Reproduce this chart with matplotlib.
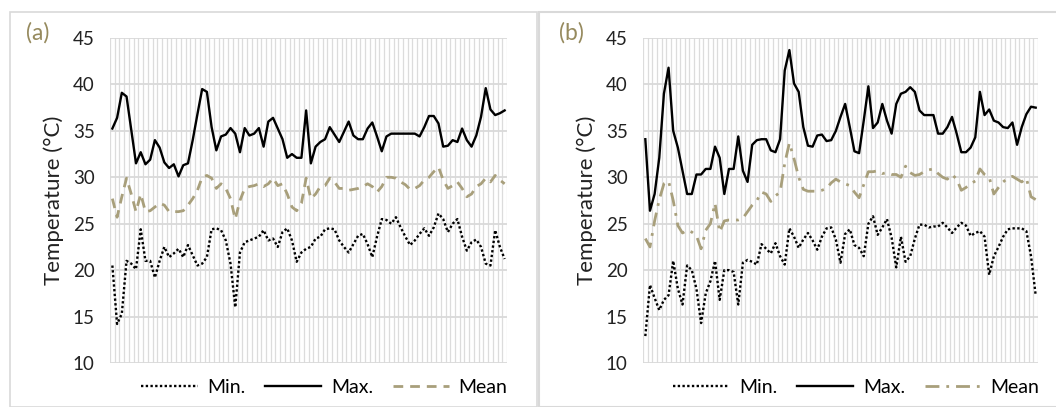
import matplotlib
matplotlib.use("Agg")
import matplotlib.pyplot as plt
from matplotlib.patches import Rectangle

plt.rcParams['font.family'] = ['Lato', 'DejaVu Sans']

# Panel (a) daily temperatures
min_a = [20.5, 14.2, 15.3, 21.0, 20.7, 20.1, 24.4, 21.0, 21.0, 19.2,
         21.0, 22.5, 21.4, 21.8, 22.3, 21.4, 22.7, 21.6, 20.5, 20.7,
         21.4, 24.4, 24.5, 24.3, 23.2, 20.7, 16.0, 21.9, 23.0, 23.2,
         23.4, 23.6, 24.3, 23.2, 23.4, 22.5, 24.1, 24.5, 23.2, 20.9,
         21.9, 22.3, 22.5, 23.4, 23.6, 24.4, 24.5, 24.4, 23.2, 22.5,
         21.9, 22.8, 23.7, 23.9, 22.8, 21.4, 23.6, 25.5, 25.4, 25.0,
         25.7, 24.6, 23.6, 22.7, 23.2, 23.9, 24.5, 23.7, 24.6, 26.1,
         25.5, 24.1, 25.0, 25.5, 23.6, 22.1, 23.0, 23.3, 22.5, 20.7,
         20.5, 24.3, 22.5, 21.2]
max_a = [35.25, 36.4, 39.1, 38.7, 35.1, 31.5, 32.7, 31.4, 31.9, 34.0,
         33.2, 31.6, 31.0, 31.4, 30.1, 31.3, 31.5, 34.0, 36.8, 39.5,
         39.2, 35.4, 32.9, 34.4, 34.6, 35.3, 34.7, 32.7, 35.3, 34.5,
         34.7, 35.3, 33.3, 36.0, 36.4, 35.25, 34.1, 32.1, 32.5, 32.1,
         32.1, 37.2, 31.5, 33.3, 33.8, 34.1, 35.4, 34.6, 33.8, 34.9,
         36.0, 34.5, 34.1, 34.1, 35.25, 35.9, 34.4, 32.8, 34.4, 34.7,
         34.7, 34.7, 34.7, 34.7, 34.7, 34.4, 35.4, 36.6, 36.6, 35.8,
         33.3, 33.4, 34.0, 33.8, 35.25, 34.0, 33.3, 34.5, 36.5, 39.6,
         37.3, 36.7, 36.9, 37.2]
mean_a = [27.7, 25.7, 27.9, 29.9, 28.2, 26.3, 28.2, 26.3, 26.4, 26.8,
          27.2, 27.0, 26.3, 26.3, 26.3, 26.4, 27.0, 27.7, 28.6, 30.0,
          30.2, 29.9, 28.8, 29.3, 28.8, 27.7, 25.5, 27.5, 28.8, 29.0,
          29.1, 29.3, 29.0, 29.3, 29.9, 29.1, 29.3, 28.2, 26.8, 26.4,
          27.2, 29.9, 27.7, 28.2, 29.0, 29.1, 29.9, 29.5, 28.8, 28.8,
          28.6, 28.7, 28.8, 29.0, 29.3, 29.0, 28.4, 29.0, 30.0, 30.0,
          29.9, 29.5, 29.2, 28.7, 28.8, 29.1, 29.7, 30.0, 30.6, 31.1,
          29.7, 28.8, 29.1, 29.5, 28.8, 27.9, 28.2, 29.0, 29.3, 29.9,
          29.5, 30.2, 29.7, 29.3]

# Panel (b) daily temperatures
min_b = [12.9, 18.4, 17.0, 15.7, 16.8, 17.3, 21.0, 18.0, 16.3, 20.5,
         20.0, 18.0, 14.3, 17.5, 18.8, 21.0, 16.8, 20.0, 20.0, 19.8,
         16.3, 20.8, 21.1, 20.9, 20.6, 22.8, 22.3, 21.8, 22.9, 21.5,
         20.6, 24.5, 23.6, 22.4, 23.3, 24.0, 23.2, 22.2, 23.6, 24.5,
         24.6, 23.3, 20.8, 23.9, 24.4, 22.7, 22.4, 21.5, 25.0, 25.8,
         23.8, 24.6, 25.5, 23.5, 20.3, 23.6, 20.9, 21.5, 23.4, 24.9,
         24.9, 24.6, 24.7, 24.7, 25.1, 24.6, 24.0, 24.6, 25.1, 24.8,
         23.7, 24.0, 24.2, 23.6, 19.5, 21.5, 22.5, 23.6, 24.4, 24.5,
         24.5, 24.5, 24.2, 21.5, 17.3]
max_b = [34.1, 26.4, 28.2, 32.1, 39.0, 41.8, 35.0, 33.2, 30.7, 28.2,
         28.2, 30.3, 30.3, 30.9, 30.9, 33.3, 32.1, 28.2, 30.9, 30.9,
         34.4, 30.7, 29.5, 33.5, 34.0, 34.1, 34.1, 32.9, 32.7, 34.1,
         41.5, 43.7, 40.1, 39.2, 35.4, 33.4, 33.3, 34.5, 34.6, 33.9,
         34.0, 35.0, 36.5, 37.9, 35.4, 32.8, 32.6, 36.1, 39.8, 35.3,
         35.9, 37.9, 36.1, 34.7, 37.9, 39.0, 39.2, 39.7, 39.2, 37.2,
         36.7, 36.7, 36.7, 34.7, 34.7, 35.4, 36.5, 34.7, 32.7, 32.7,
         33.2, 34.3, 39.2, 36.7, 37.3, 36.1, 35.9, 35.4, 35.3, 35.9,
         33.5, 35.4, 36.8, 37.6, 37.5]
mean_b = [23.4, 22.5, 25.3, 27.6, 29.3, 29.6, 27.5, 24.8, 24.0, 24.3,
          24.1, 23.7, 22.3, 24.3, 25.0, 27.2, 24.1, 25.3, 25.4, 25.4,
          25.4, 25.6, 26.3, 27.0, 27.5, 28.4, 28.2, 27.4, 28.0, 28.4,
          31.5, 33.7, 32.0, 30.0, 28.7, 28.5, 28.5, 28.5, 28.6, 28.8,
          29.4, 29.8, 29.5, 29.3, 29.1, 28.4, 27.8, 29.2, 30.6, 30.6,
          30.7, 30.4, 30.5, 30.3, 30.3, 30.0, 31.2, 30.5, 30.2, 30.3,
          30.6, 30.8, 30.9, 30.4, 30.0, 29.8, 30.3, 29.8, 28.6, 28.9,
          29.3, 29.6, 30.9, 30.3, 30.0, 28.2, 28.9, 29.5, 29.9, 30.1,
          29.8, 29.5, 29.9, 27.9, 27.6]

panels = [("(a)", min_a, max_a, mean_a, (0, (3.5, 2.5))),
          ("(b)", min_b, max_b, mean_b, (0, (5, 2.5, 1, 2.5)))]

W, H = 1056, 407
fig = plt.figure(figsize=(W / 100, H / 100), dpi=100)

# chart area borders
fig.patches.append(Rectangle((10 / W, 0), 527 / W, 1 - 12 / H, transform=fig.transFigure,
                             fill=False, edgecolor="#d9d9d9", lw=1.2))
fig.patches.append(Rectangle((539 / W, 0), 530 / W, 1 - 12 / H, transform=fig.transFigure,
                             fill=False, edgecolor="#d9d9d9", lw=1.5))

lefts = [110, 643]
widths = [397, 395]
mean_color = "#a89f7b"

for (tag, mn, mx, me, dash), left, width in zip(panels, lefts, widths):
    ax = fig.add_axes([left / W, 44 / H, width / W, 325 / H])
    n = len(mx)
    x = list(range(n))
    l1, = ax.plot(x, mn, color="black", lw=1.7, linestyle=(0, (1, 1)), label="Min.")
    l2, = ax.plot(x, mx, color="black", lw=1.7, label="Max.")
    l3, = ax.plot(x, me, color=mean_color, lw=2.0, linestyle=dash, label="Mean")
    ax.set_xlim(-0.5, n - 0.5)
    ax.set_ylim(10, 45)
    ax.set_yticks(range(10, 46, 5))
    for b in range(n + 1):
        ax.axvline(b - 0.5, color="#dcdcdc", lw=0.9, zorder=0)
    for yv in range(10, 46, 5):
        ax.axhline(yv, color="#d9d9d9", lw=1.3, zorder=0)
    ax.set_xticks([])
    for s in ax.spines.values():
        s.set_visible(False)
    ax.tick_params(axis="y", length=0, labelsize=13.5, pad=11, labelcolor="#222222")
    ax.set_ylabel("Temperature (°C)", fontsize=16, labelpad=6, color="#222222")
    ax.text(-72 / width, 1.015, tag, transform=ax.transAxes, fontsize=16.5, color="#968a5e",
            ha="center", va="center")
    ax.legend(handles=[l1, l2, l3], loc="upper center", bbox_to_anchor=(0.54, 0.005),
              ncol=3, frameon=False, fontsize=14, handlelength=2.9, columnspacing=1.0,
              handletextpad=0.5)

fig.savefig("out.png", dpi=100, facecolor="white")
